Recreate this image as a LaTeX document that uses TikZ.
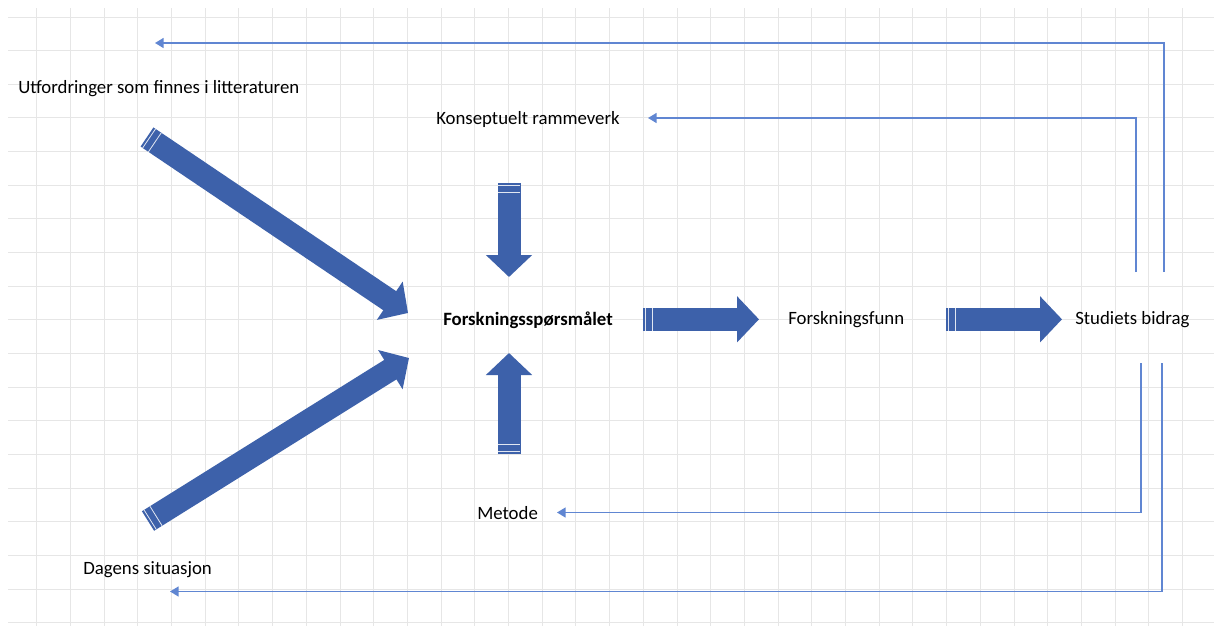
\documentclass[tikz,border=0pt]{standalone}
\usepackage{fontspec}
\setmainfont{Carlito}
\usepackage{xcolor}
\usetikzlibrary{arrows.meta,calc}
\definecolor{blockblue}{RGB}{61,97,170}
\definecolor{linkblue}{RGB}{96,134,210}
\definecolor{gridgray}{RGB}{230,230,230}
\tikzset{
  lbl/.style={anchor=base west, inner sep=0pt, font=\fontsize{14.1pt}{17pt}\selectfont},
  gridline/.style={draw=gridgray, line width=0.75pt},
  bigarrow/.style={draw=blockblue, line width=17.25pt,
                   -{Triangle[length=16.5pt, width=33.75pt]}},
  stripe/.style={draw=white!85!blockblue, line width=0.6pt},
  thinarrow/.style={draw=linkblue, line width=1.2pt,
                    -{Triangle[length=6.5pt, width=7.5pt]}},
}
\newcommand{\tailstripes}[2]{%
  \coordinate (sa) at ($(#1)!1.9pt!(#2)$);
  \coordinate (sb) at ($(#1)!7.1pt!(#2)$);
  \draw[stripe] ($(sa)!8.6pt!90:(#2)$) -- ($(sa)!8.6pt!-90:(#2)$);
  \draw[stripe] ($(sb)!8.6pt!90:(#2)$) -- ($(sb)!8.6pt!-90:(#2)$);
}

\begin{document}
\begin{tikzpicture}[x=0.75pt, y=-0.75pt]
  \useasboundingbox[fill=white] (0,0) rectangle (1214,626);
  % sheet grid
  \foreach \k in {1,...,35} \draw[gridline] ({3+33.7*\k},8) -- ({3+33.7*\k},626);
  \foreach \k in {0,...,18} \draw[gridline] (8,{17+33.65*\k}) -- (1214,{17+33.65*\k});

  % labels
  \node[lbl] (utf)    at (18,93.5)  {Utfordringer som finnes i litteraturen};
  \node[lbl] (kon)    at (436,124)  {Konseptuelt rammeverk};
  \node[lbl, font=\fontsize{14.1pt}{17pt}\selectfont\bfseries]
             (fsp)    at (443,325)  {Forskningsspørsmålet};
  \node[lbl] (funn)   at (788,324.5) {Forskningsfunn};
  \node[lbl] (bidrag) at (1075,324.5) {Studiets bidrag};
  \node[lbl] (metode) at (477,519)  {Metode};
  \node[lbl] (dagens) at (83,574.5) {Dagens situasjon};

  % block arrows
  \coordinate (d1s) at (147,137);   \coordinate (d1e) at (408,313);
  \coordinate (d2s) at (148,521);   \coordinate (d2e) at (409,358);
  \coordinate (ns)  at (509,183);   \coordinate (ne)  at (509,277);
  \coordinate (ss)  at (509,454);   \coordinate (se)  at (509,353);
  \coordinate (r1s) at (643,319.3); \coordinate (r1e) at (759,319.3);
  \coordinate (r2s) at (946,319.3); \coordinate (r2e) at (1062,319.3);
  \foreach \s/\e in {d1s/d1e, d2s/d2e, ns/ne, ss/se, r1s/r1e, r2s/r2e} {
    \draw[bigarrow] (\s) -- (\e);
    \tailstripes{\s}{\e}
  }

  % feedback lines
  \coordinate (up1) at (1164,272);  \coordinate (back1) at (155,43);
  \coordinate (up2) at (1136,272);  \coordinate (back2) at (648,118);
  \coordinate (dn1) at (1141,363);  \coordinate (back3) at (557,512.5);
  \coordinate (dn2) at (1162,363);  \coordinate (back4) at (170,591.5);
  \draw[thinarrow] (up1) |- (back1);
  \draw[thinarrow] (up2) |- (back2);
  \draw[thinarrow] (dn1) |- (back3);
  \draw[thinarrow] (dn2) |- (back4);
\end{tikzpicture}
\end{document}
